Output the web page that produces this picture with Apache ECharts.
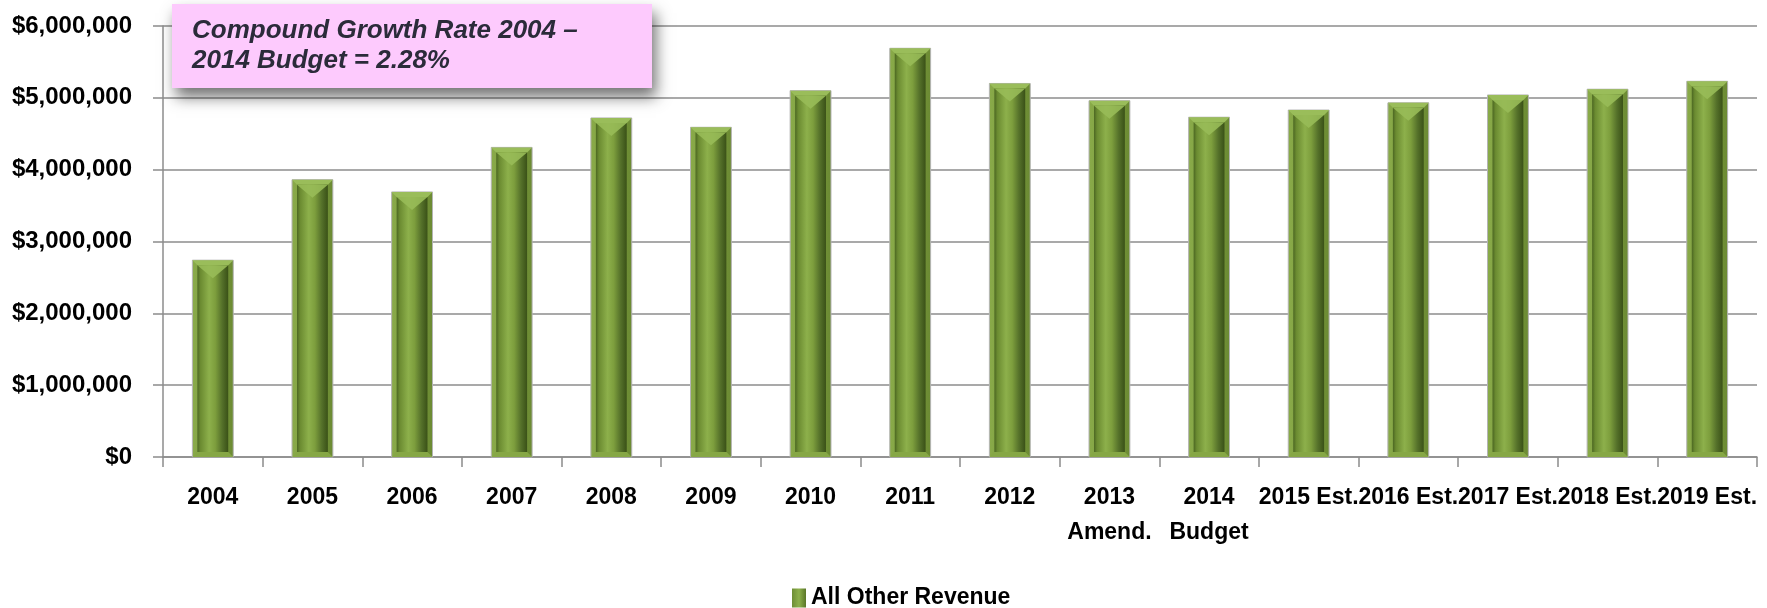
<!DOCTYPE html>
<html>
<head>
<meta charset="utf-8">
<script src="https://cdn.jsdelivr.net/npm/echarts@6/dist/echarts.min.js"></script>
<style>
  html, body { margin: 0; padding: 0; background: #ffffff; }
  #chart { width: 1767px; height: 608px; }
</style>
</head>
<body>
<div id="chart"></div>
<script>
const categories = ['2004', '2005', '2006', '2007', '2008', '2009', '2010', '2011', '2012',
  '2013\nAmend.', '2014\nBudget', '2015 Est.', '2016 Est.', '2017 Est.', '2018 Est.', '2019 Est.'];
const allOtherRevenue = [2740000, 3860000, 3690000, 4310000, 4720000, 4590000, 5100000, 5690000, 5200000,
  4960000, 4730000, 4830000, 4930000, 5040000, 5120000, 5230000];
const seriesName = 'All Other Revenue';
const yTicks = { min: 0, max: 6000000, interval: 1000000 };
const noteText = 'Compound Growth Rate 2004 –\n2014 Budget = 2.28%';

const FONT = "'Liberation Sans', Arial, sans-serif";

function hGrad(stops) {
  return { type: 'linear', x: 0, y: 0, x2: 1, y2: 0,
    colorStops: stops.map(s => ({ offset: s[0], color: s[1] })) };
}
const outerFill = hGrad([[0, '#8aab4a'], [0.5, '#7b9b3c'], [1, '#6b8a33']]);
const innerFill = hGrad([[0, '#4c6722'], [0.10, '#6b8b31'], [0.38, '#8db04b'], [0.58, '#7d9e3d'],
  [0.80, '#55712a'], [1, '#3a5117']]);
const legendFill = hGrad([[0, '#6e8e35'], [0.5, '#8db04b'], [1, '#5a7628']]);

function renderBevelBar(params, api) {
  const idx = api.value(0);
  const top = api.coord([idx, api.value(1)]);
  const bot = api.coord([idx, 0]);
  const w = api.size([1, 0])[0] * 0.41;
  const x0 = top[0] - w / 2, x1 = top[0] + w / 2;
  const yT = top[1], yB = bot[1];
  const b = 5;
  const cx = top[0];
  return {
    type: 'group',
    children: [
      { type: 'rect', shape: { x: x0, y: yT, width: w, height: yB - yT },
        style: { fill: outerFill, stroke: '#b4b4b4', lineWidth: 1 } },
      { type: 'polygon', shape: { points: [[x0, yT], [x1, yT], [x1 - b, yT + b], [x0 + b, yT + b]] },
        style: { fill: '#9abd5a' } },
      { type: 'polygon', shape: { points: [[x0, yB], [x1, yB], [x1 - b, yB - b], [x0 + b, yB - b]] },
        style: { fill: '#86a745' } },
      { type: 'rect', shape: { x: x0 + b, y: yT + b, width: w - 2 * b, height: yB - yT - 2 * b },
        style: { fill: innerFill } },
      { type: 'polygon', shape: { points: [[x0 + b, yT + b], [x1 - b, yT + b], [cx, yT + b + 13]] },
        style: { fill: '#98bb58', opacity: 0.9 } }
    ]
  };
}

const chart = echarts.init(document.getElementById('chart'), null, { renderer: 'canvas' });

chart.setOption({
  backgroundColor: '#ffffff',
  animation: false,
  grid: { left: 163, right: 10, top: 26, bottom: 151, containLabel: false },
  legend: {
    data: [seriesName],
    left: 787, top: 579,
    itemWidth: 14, itemHeight: 19,
    icon: 'rect',
    itemStyle: { color: legendFill },
    textStyle: { fontFamily: FONT, fontSize: 23, fontWeight: 'bold', color: '#000', lineHeight: 28 }
  },
  xAxis: {
    type: 'category',
    data: categories,
    boundaryGap: true,
    axisLine: { show: true, lineStyle: { color: '#8c8c8c', width: 1.5 } },
    axisTick: { show: true, length: 10, alignWithLabel: false, lineStyle: { color: '#8c8c8c', width: 1.5 } },
    axisLabel: {
      interval: 0, margin: 23,
      fontFamily: FONT, fontSize: 23, fontWeight: 'bold', color: '#000', lineHeight: 35
    }
  },
  yAxis: {
    type: 'value',
    min: yTicks.min, max: yTicks.max, interval: yTicks.interval,
    axisLine: { show: true, lineStyle: { color: '#8c8c8c', width: 1.5 } },
    axisTick: { show: true, length: 10, lineStyle: { color: '#8c8c8c', width: 1.5 } },
    splitLine: { show: true, lineStyle: { color: '#8c8c8c', width: 1.5 } },
    axisLabel: {
      margin: 31,
      fontFamily: FONT, fontSize: 24, fontWeight: 'bold', color: '#000',
      formatter: v => '$' + v.toLocaleString('en-US')
    }
  },
  series: [{
    name: seriesName,
    type: 'custom',
    renderItem: renderBevelBar,
    data: allOtherRevenue.map((v, i) => [i, v]),
    encode: { x: 0, y: 1 },
    itemStyle: { color: legendFill },
    z: 2
  }],
  graphic: [
    {
      type: 'rect',
      left: 172, top: 4,
      shape: { width: 480, height: 84 },
      style: {
        fill: '#fdcafd',
        shadowColor: 'rgba(0,0,0,0.55)', shadowBlur: 14, shadowOffsetX: 4, shadowOffsetY: 9
      },
      z: 100
    },
    {
      type: 'text',
      left: 192, top: 16,
      style: {
        text: noteText,
        font: "italic bold 26px 'Liberation Sans', Arial, sans-serif",
        fill: '#2b2b3a',
        lineHeight: 30
      },
      z: 101
    }
  ]
});
</script>
</body>
</html>
